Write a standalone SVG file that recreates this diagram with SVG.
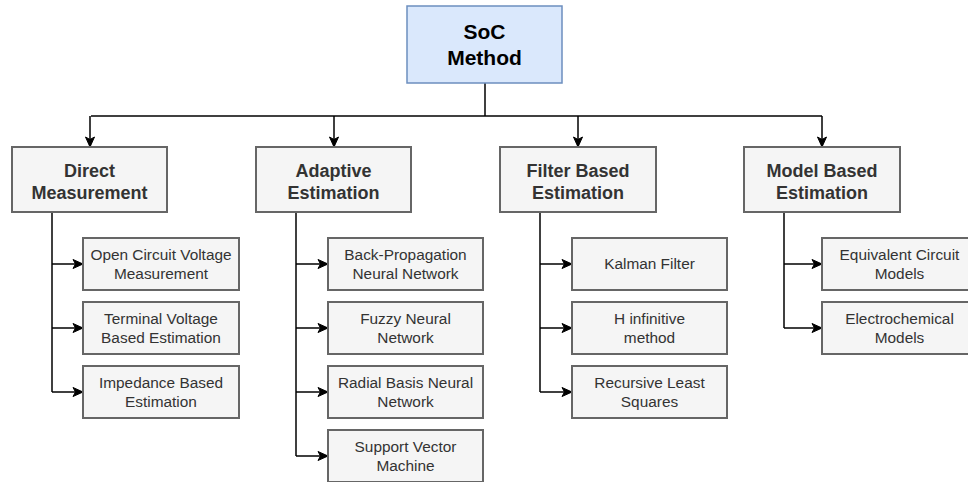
<svg xmlns="http://www.w3.org/2000/svg" width="968" height="482" viewBox="0 0 968 482">
<style>
.root rect{fill:#dae8fc;stroke:#6c8ebf;stroke-width:1.5}
.hdr rect{fill:#f5f5f5;stroke:#666666;stroke-width:2}
.leaf rect{fill:#f5f5f5;stroke:#666666;stroke-width:2}
text{font-family:"Liberation Sans",Arial,Helvetica,sans-serif;text-anchor:middle;fill:#333333}
.root text{font-size:21px;font-weight:bold;fill:#000000}
.hdr text{font-size:18px;font-weight:bold}
.leaf text{font-size:15.4px}
.conn path{fill:none;stroke:#000000;stroke-width:1.5}
</style>
<defs>
<marker id="arr" markerUnits="userSpaceOnUse" viewBox="-11 -6 12 12" refX="0" refY="0" markerWidth="12" markerHeight="12" orient="auto">
<path d="M0,0 L-10,-4.5 L-7.5,0 L-10,4.5 Z" fill="#000000" stroke="#000000" stroke-width="1"/>
</marker>
</defs>
<rect width="968" height="482" fill="#ffffff"/>
<g id="connectors" class="conn">
<path d="M485,83 V116"/>
<path d="M91,116 H822"/>
<path d="M90,116 V147" marker-end="url(#arr)"/>
<path d="M334,116 V147" marker-end="url(#arr)"/>
<path d="M578,116 V147" marker-end="url(#arr)"/>
<path d="M822,116 V147" marker-end="url(#arr)"/>
<path d="M52,212 V392"/>
<path d="M52,264 H83" marker-end="url(#arr)"/>
<path d="M52,328 H83" marker-end="url(#arr)"/>
<path d="M52,392 H83" marker-end="url(#arr)"/>
<path d="M296,212 V456"/>
<path d="M296,264 H328" marker-end="url(#arr)"/>
<path d="M296,328 H328" marker-end="url(#arr)"/>
<path d="M296,392 H328" marker-end="url(#arr)"/>
<path d="M296,456 H328" marker-end="url(#arr)"/>
<path d="M540,212 V392"/>
<path d="M540,264 H572" marker-end="url(#arr)"/>
<path d="M540,328 H572" marker-end="url(#arr)"/>
<path d="M540,392 H572" marker-end="url(#arr)"/>
<path d="M784,212 V328"/>
<path d="M784,264 H822" marker-end="url(#arr)"/>
<path d="M784,328 H822" marker-end="url(#arr)"/>
</g>
<g id="soc" class="root"><rect x="407" y="6" width="155" height="77"/><text x="484.5" y="39">SoC</text><text x="484.5" y="65">Method</text></g>
<g id="direct" class="hdr"><rect x="12" y="147" width="155" height="65"/><text x="89.5" y="177">Direct</text><text x="89.5" y="199">Measurement</text></g>
<g id="adaptive" class="hdr"><rect x="256" y="147" width="155" height="65"/><text x="333.5" y="177">Adaptive</text><text x="333.5" y="199">Estimation</text></g>
<g id="filter" class="hdr"><rect x="500" y="147" width="156" height="65"/><text x="578" y="177">Filter Based</text><text x="578" y="199">Estimation</text></g>
<g id="model" class="hdr"><rect x="744" y="147" width="156" height="65"/><text x="822" y="177">Model Based</text><text x="822" y="199">Estimation</text></g>
<g id="ocv" class="leaf"><rect x="83" y="238" width="156" height="52"/><text x="161" y="260">Open Circuit Voltage</text><text x="161" y="279">Measurement</text></g>
<g id="tv" class="leaf"><rect x="83" y="302" width="156" height="52"/><text x="161" y="324">Terminal Voltage</text><text x="161" y="343">Based Estimation</text></g>
<g id="imp" class="leaf"><rect x="83" y="366" width="156" height="52"/><text x="161" y="388">Impedance Based</text><text x="161" y="407">Estimation</text></g>
<g id="bp" class="leaf"><rect x="328" y="238" width="155" height="52"/><text x="405.5" y="260">Back-Propagation</text><text x="405.5" y="279">Neural Network</text></g>
<g id="fnn" class="leaf"><rect x="328" y="302" width="155" height="52"/><text x="405.5" y="324">Fuzzy Neural</text><text x="405.5" y="343">Network</text></g>
<g id="rbf" class="leaf"><rect x="328" y="366" width="155" height="52"/><text x="405.5" y="388">Radial Basis Neural</text><text x="405.5" y="407">Network</text></g>
<g id="svm" class="leaf"><rect x="328" y="430" width="155" height="52"/><text x="405.5" y="452">Support Vector</text><text x="405.5" y="471">Machine</text></g>
<g id="kf" class="leaf"><rect x="572" y="238" width="155" height="52"/><text x="649.5" y="269">Kalman Filter</text></g>
<g id="hinf" class="leaf"><rect x="572" y="302" width="155" height="52"/><text x="649.5" y="324">H infinitive</text><text x="649.5" y="343">method</text></g>
<g id="rls" class="leaf"><rect x="572" y="366" width="155" height="52"/><text x="649.5" y="388">Recursive Least</text><text x="649.5" y="407">Squares</text></g>
<g id="ecm" class="leaf"><rect x="822" y="238" width="155" height="52"/><text x="899.5" y="260">Equivalent Circuit</text><text x="899.5" y="279">Models</text></g>
<g id="echem" class="leaf"><rect x="822" y="302" width="155" height="52"/><text x="899.5" y="324">Electrochemical</text><text x="899.5" y="343">Models</text></g>
</svg>
